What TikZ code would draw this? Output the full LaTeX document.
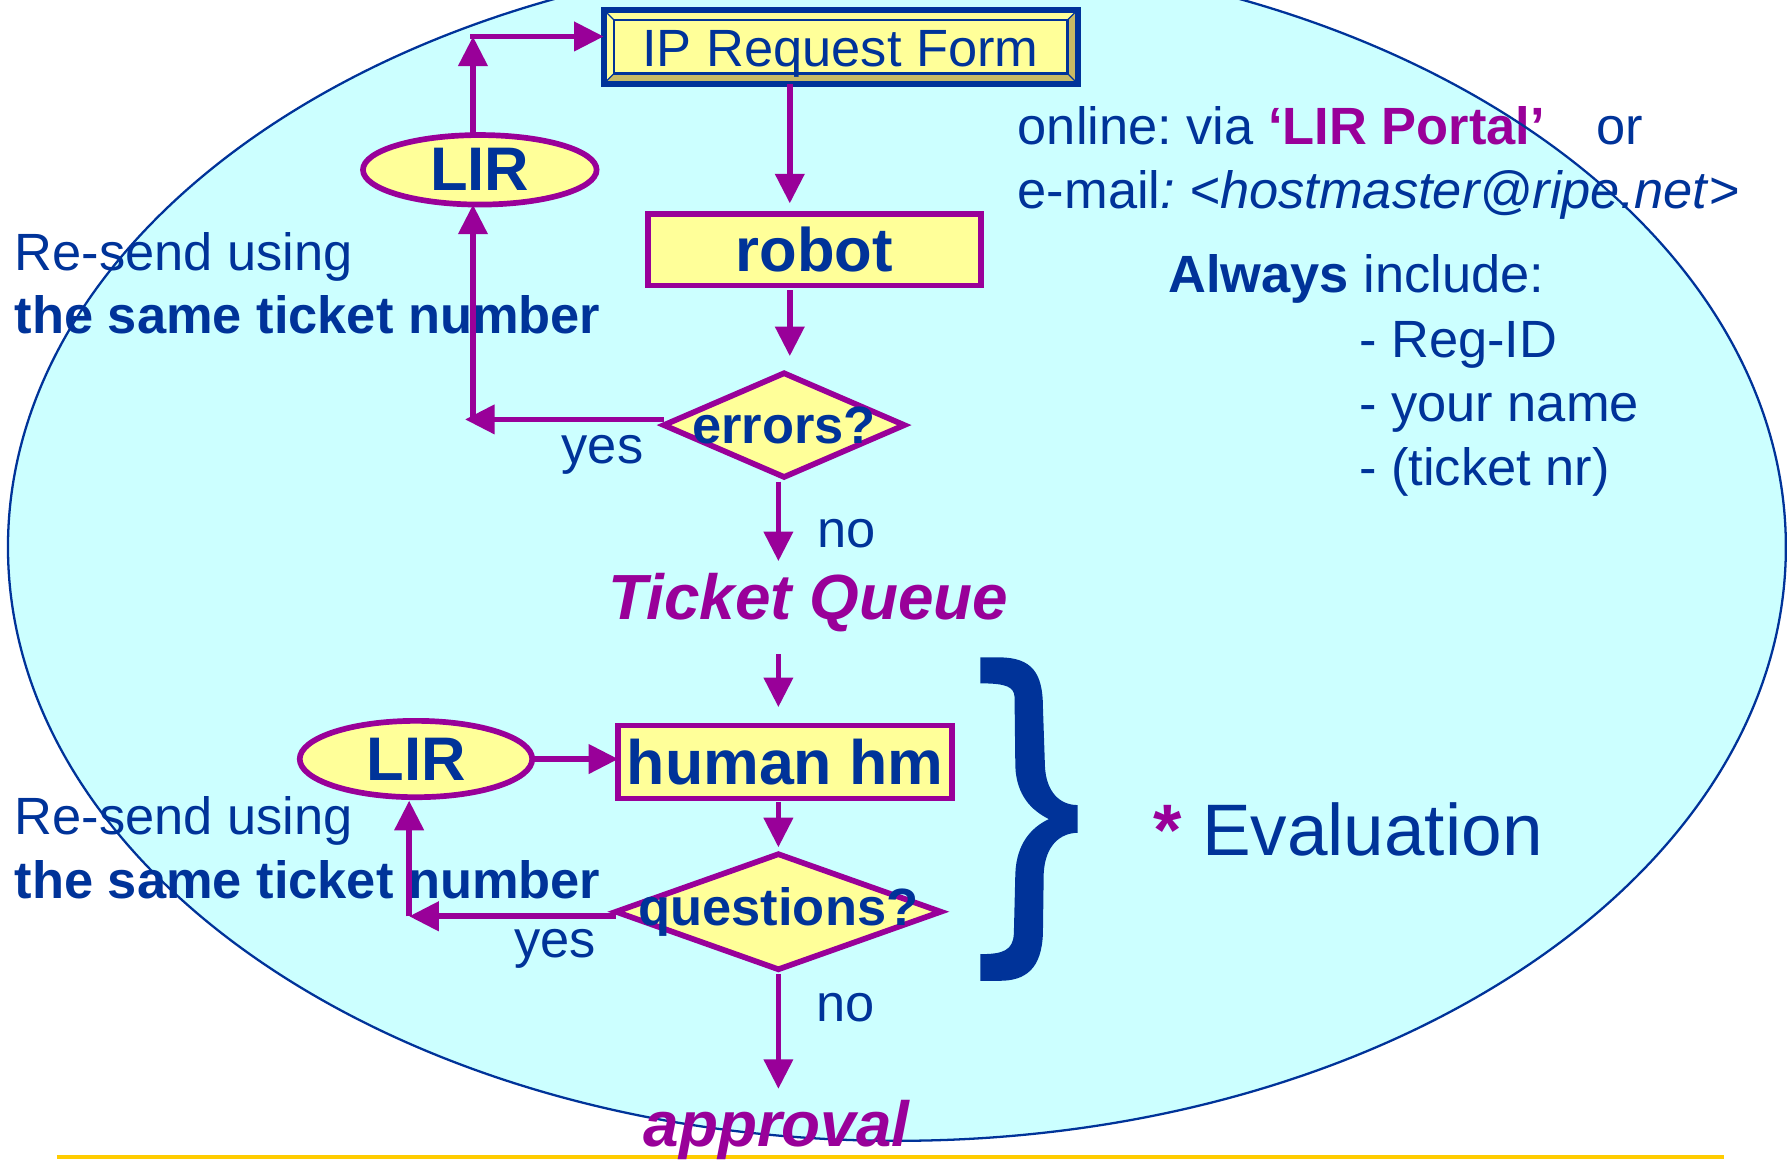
\documentclass[tikz,border=0pt]{standalone}
\usepackage{fontspec}
\setmainfont{Liberation Sans}
\usetikzlibrary{arrows.meta,shapes.geometric,calc}
\definecolor{rblue}{HTML}{003399}
\definecolor{rpurple}{HTML}{990099}
\definecolor{ryellow}{HTML}{FFFF99}
\definecolor{rcyan}{HTML}{CCFFFF}
\definecolor{rgold}{HTML}{FFCC00}
\definecolor{rkhaki}{HTML}{C8BA64}
\newcommand{\myfs}[1]{\fontsize{#1pt}{#1pt}\selectfont}
\frenchspacing
\begin{document}
\begin{tikzpicture}[x=1pt,y=-1pt,
  every node/.style={inner sep=0pt, outer sep=0pt},
  conn/.style={draw=rpurple, line width=5pt, -{Triangle[length=26pt,width=25pt]}},
  tx/.style={text=rblue, font=\myfs{46}},
  txb/.style={text=rblue, font=\myfs{46}\bfseries},
  flowbox/.style={rectangle, draw=rpurple, line width=5pt, fill=ryellow, text=rblue, font=\myfs{54}\bfseries},
  flowell/.style={ellipse, draw=rpurple, line width=5pt, fill=ryellow, text=rblue, font=\myfs{54}\bfseries},
  flowdia/.style={diamond, draw=rpurple, line width=5pt, fill=ryellow},
  diatxt/.style={text=rblue, font=\myfs{46}\bfseries},
  purpit/.style={text=rpurple, font=\myfs{56}\bfseries\itshape},
  ipframe/.style={rectangle, draw=rblue, line width=5pt, fill=ryellow},
  bevel/.style={rblue, line width=1pt},
]
\useasboundingbox (0,0) rectangle (1568,1018);
\clip (0,0) rectangle (1568,1018);
\fill[white] (0,0) rectangle (1568,1018);

% big background ellipse
\fill[rcyan] (787,480) ellipse [x radius=780pt, y radius=521pt];

% free texts
\node[tx, anchor=base west] (rs1) at (13,237) {Re-send using};
\node[txb, anchor=base west] (st1) at (13,292.5) {the same ticket number};
\node[tx, anchor=base west] (rs2) at (13,732) {Re-send using};
\node[txb, anchor=base west] (st2) at (13,788) {the same ticket number};

\node[tx, anchor=base west] (online) at (893,127)
  {online: via \textcolor{rpurple}{\bfseries ‘LIR Portal’}\hspace{45pt}or};
\node[tx, anchor=base west] (email) at (893,182.6)
  {e-mail\textit{: <hostmaster@ripe.net}>};
\node[tx, anchor=base west] (always) at (1025,257) {\textbf{Always} include:};
\node[tx, anchor=base west] (i1) at (1192.6,314) {- Reg-ID};
\node[tx, anchor=base west] (i2) at (1192.6,370) {- your name};
\node[tx, anchor=base west] (i3) at (1192.6,425.6) {- (ticket nr)};

\node[text=rblue, font=\myfs{64}, anchor=base west] (eval) at (1012,750.3)
  {\textcolor{rpurple}{\bfseries *} Evaluation};

% ellipse outline
\draw[rblue, line width=2pt] (787,480) ellipse [x radius=780pt, y radius=521pt];

% brace
\fill[rblue] (860.3,576.8) -- (877,576.8)
  .. controls (905,577) and (915,590) .. (915.1,620)
  -- (916.9,672.7)
  .. controls (918,695) and (930,706.4) .. (945.6,706.4)
  -- (945.6,730.7)
  .. controls (930,731) and (917,742) .. (915.8,766.4)
  -- (915.1,819)
  .. controls (914,850) and (900,860.6) .. (877,860.6)
  -- (860.3,860.6) -- (860.3,837.2)
  .. controls (880,837.2) and (889,834) .. (889.6,819)
  -- (890.9,766.4)
  .. controls (892,740) and (905,726) .. (920.3,718.7)
  .. controls (905,711) and (892,698) .. (890.9,672.7)
  -- (890.2,611.3)
  .. controls (889.5,603) and (884,599.6) .. (860.3,599.6)
  -- cycle;

% bottom rule
\draw[rgold, line width=3.5pt] (50,1015.5) -- (1513,1015.5);

% IP Request Form box with bevelled frame
\node[ipframe, minimum width=416pt, minimum height=65pt] (ipbox) at (737.7,41) {};
\fill[rkhaki] ([shift={(2.5pt,2.5pt)}]ipbox.south west) -- ([shift={(-2.5pt,2.5pt)}]ipbox.south east)
  -- ([shift={(-9pt,9pt)}]ipbox.south east) -- ([shift={(9pt,9pt)}]ipbox.south west) -- cycle;
\fill[rkhaki] ([shift={(-2.5pt,-2.5pt)}]ipbox.north east) -- ([shift={(-2.5pt,2.5pt)}]ipbox.south east)
  -- ([shift={(-9pt,9pt)}]ipbox.south east) -- ([shift={(-9pt,-9pt)}]ipbox.north east) -- cycle;
\draw[bevel] ([shift={(2.5pt,-2.5pt)}]ipbox.north west) -- ([shift={(9pt,-9pt)}]ipbox.north west);
\draw[bevel] ([shift={(-2.5pt,-2.5pt)}]ipbox.north east) -- ([shift={(-9pt,-9pt)}]ipbox.north east);
\draw[bevel] ([shift={(2.5pt,2.5pt)}]ipbox.south west) -- ([shift={(9pt,9pt)}]ipbox.south west);
\draw[bevel] ([shift={(-2.5pt,2.5pt)}]ipbox.south east) -- ([shift={(-9pt,9pt)}]ipbox.south east);
\draw[rblue, line width=2.5pt, fill=ryellow]
  ([shift={(9pt,-9pt)}]ipbox.north west) rectangle ([shift={(-9pt,9pt)}]ipbox.south east);
\node[tx, anchor=base] (iptxt) at (737.5,58.5) {IP Request Form};

% flowchart nodes
\node[flowell, minimum width=205pt, minimum height=61pt] (lir1) at (421,149) {LIR};
\node[flowbox, minimum width=292pt, minimum height=63pt] (rob) at (714.5,219) {robot};
\node[flowdia, minimum width=211pt, minimum height=91pt,
      label={[diatxt]center:errors?}] (err) at (688,373) {};
\node[tx, anchor=base] (yes1) at (528.6,407) {yes};
\node[tx, anchor=base west] (no1) at (717,480) {no};
\node[purpit, anchor=base] (tq) at (709.5,544) {Ticket Queue};

\node[flowell, minimum width=204pt, minimum height=67pt] (lir2) at (365,666) {LIR};
\node[flowbox, minimum width=293pt, minimum height=64pt, font=\myfs{55}\bfseries] (hum) at (689,668.5) {human hm};
\node[flowdia, minimum width=285pt, minimum height=101pt,
      label={[diatxt]center:questions?}] (qst) at (683,800) {};
\node[tx, anchor=base] (yes2) at (487,840) {yes};
\node[tx, anchor=base west] (no2) at (716,896.5) {no};
\node[purpit, anchor=base] (appr) at (681.5,1006) {approval};

% connectors
\coordinate (c1) at (415,32);
\coordinate (c2) at (415,368);
\coordinate (c3) at (359,804);
\coordinate (ux) at (693,0);
\coordinate (lx) at (683,0);

\draw[conn] (lir1.north -| c1) -- (c1);
\draw[conn] ([xshift=-2.5pt]c1) -- (c1 -| ipbox.west);
\draw[conn, shorten >=9pt] (ipbox.south -| ux) -- (rob.north -| ux);
\draw[conn, shorten <=4pt, shorten >=15pt] (rob.south -| ux) -- (err.north -| ux);
\draw[conn] ([yshift=5pt]err.west) -- ([xshift=-7pt]c2);
\draw[conn] (c2) -- (c2 |- lir1.south);
\draw[conn, shorten <=4pt, shorten >=11pt] (err.south -| lx) -- (tq.north -| lx);
\draw[conn, shorten <=19pt, shorten >=16pt] (tq.south -| lx) -- (hum.north -| lx);
\draw[conn] (lir2.east) -- (lir2.east -| hum.west);
\draw[conn, shorten <=3pt, shorten >=6pt] (hum.south -| lx) -- (qst.north -| lx);
\draw[conn] ([yshift=-4pt]qst.west) -- (c3);
\draw[conn, shorten >=3pt] (c3) -- (c3 |- lir2.south);
\draw[conn, shorten <=4pt, shorten >=10pt] (qst.south -| lx) -- (appr.north -| lx);
\end{tikzpicture}
\end{document}
